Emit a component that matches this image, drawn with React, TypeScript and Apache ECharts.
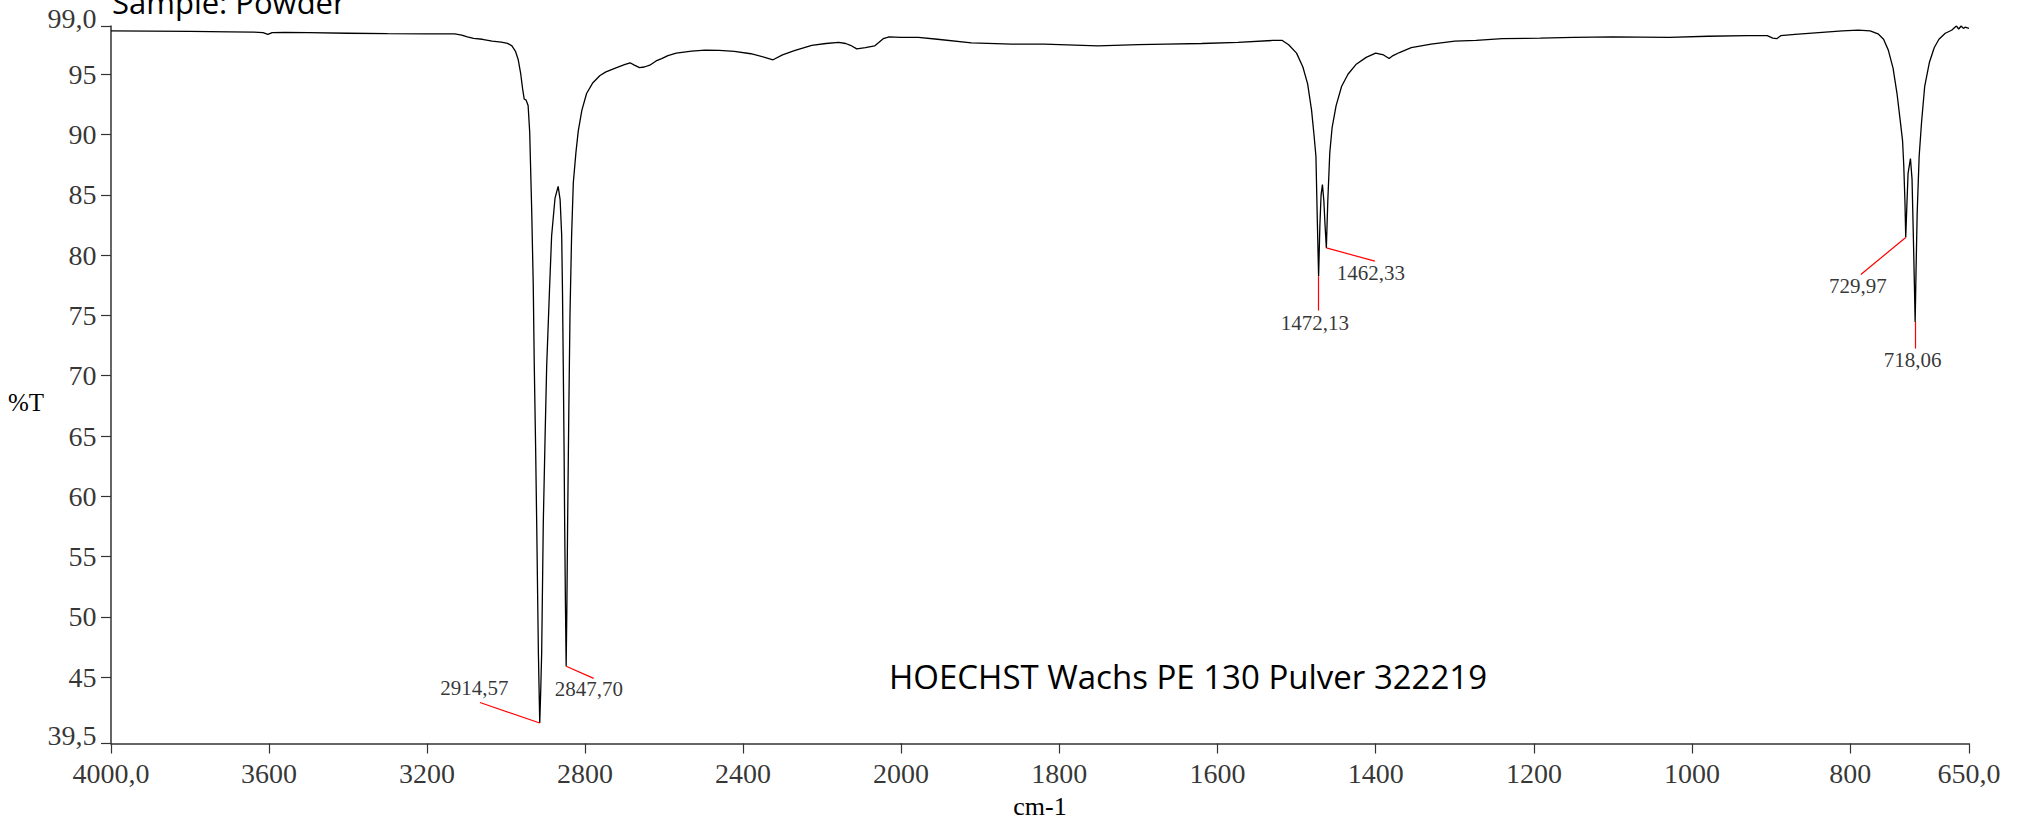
import React, { useEffect, useRef } from "react";
import * as echarts from "echarts";

// Wavenumber (cm-1), descending
const wavenumbers: number[] = [
  4000, 3900, 3800, 3700, 3640, 3615, 3603, 3592, 3560, 3500, 3400, 3300, 3200, 3130, 3112, 3098,
  3082, 3060, 3035, 3012, 2996, 2985, 2976, 2969, 2963, 2958, 2954, 2949, 2944, 2940, 2935, 2931,
  2928.4, 2925, 2922.3, 2920, 2918, 2916, 2914.57, 2912, 2909.7, 2905.6, 2901, 2897, 2890, 2884.5,
  2876, 2868, 2863, 2859, 2857, 2855, 2853, 2851.5, 2849.5, 2847.7, 2846, 2844, 2841, 2838, 2834,
  2829.6, 2823, 2817, 2808, 2796, 2780, 2762, 2747, 2720, 2700, 2686, 2675, 2662, 2650, 2636, 2620,
  2606, 2590, 2569, 2530, 2496, 2460, 2422, 2380, 2345, 2324, 2300, 2270, 2226, 2190, 2158, 2140,
  2128, 2112, 2090, 2067, 2045, 2030, 2015, 2000, 1978, 1954, 1911, 1860, 1819, 1751, 1700, 1665,
  1620, 1574, 1530, 1518, 1510, 1500, 1492, 1486, 1481, 1478, 1475.5, 1473.8, 1472.13, 1470.5, 1469,
  1467.3, 1465.5, 1464, 1462.33, 1460.5, 1458, 1455, 1450, 1443, 1435, 1425, 1412, 1400, 1390, 1383,
  1378, 1370, 1355, 1330, 1300, 1273, 1240, 1192, 1150, 1100, 1029, 980, 930, 905, 898, 893, 888,
  870, 840, 810, 790, 775, 765, 758, 752, 746, 741, 737, 734, 732.5, 731, 729.97, 728.5, 727, 724,
  722, 720.5, 719, 718.06, 717, 715.5, 713, 710, 706, 700, 694, 688, 680, 672, 666, 663, 660, 657,
  655, 650,
];

// Transmittance (%T)
const transmittance: number[] = [
  98.6, 98.58, 98.55, 98.52, 98.5, 98.45, 98.3, 98.45, 98.47, 98.45, 98.4, 98.36, 98.35, 98.35, 98.25, 98.1,
  97.97, 97.9, 97.75, 97.66, 97.56, 97.35, 96.9, 96.2, 95.1, 93.8, 92.95, 92.85, 92.4, 90.2, 83.8, 77.5,
  70.8, 64, 57.8, 52, 47, 43.6, 41.2, 44, 47, 57.8, 65, 70.8, 77, 81.6,
  84.7, 85.7, 84.6, 81.6, 77, 70.8, 64, 57.8, 51, 45.9, 50.5, 57.8, 67, 75.1, 81.5,
  86, 88.5, 90.3, 92, 93.4, 94.3, 94.9, 95.2, 95.55, 95.8, 95.95, 95.75, 95.55, 95.6, 95.75, 96.1,
  96.3, 96.55, 96.75, 96.92, 97.0, 96.98, 96.9, 96.7, 96.4, 96.2, 96.6, 96.95, 97.4, 97.55, 97.65, 97.55,
  97.4, 97.1, 97.2, 97.35, 97.95, 98.1, 98.08, 98.06, 98.05, 97.9, 97.6, 97.5, 97.5, 97.35, 97.45, 97.5,
  97.55, 97.65, 97.8, 97.8, 97.45, 96.75, 95.6, 94.2, 92.0, 90.0, 88.2, 83, 78.25, 82.5, 85,
  85.85, 84.5, 82.5, 80.6, 84.5, 88.5, 90.6, 92.4, 94.0, 95.0, 95.8, 96.4, 96.75, 96.6, 96.3,
  96.55, 96.8, 97.2, 97.5, 97.75, 97.8, 97.95, 98.0, 98.05, 98.1, 98.05, 98.15, 98.2, 98.2, 98.0, 97.95, 98.2,
  98.3, 98.45, 98.6, 98.65, 98.6, 98.35, 97.9, 97.0, 95.5, 93.4, 91.2, 89.5, 87.5, 84.5, 81.46, 84.2, 86.8, 88.0,
  86.3, 82, 77.5, 74.46, 78.5, 83.5, 88.2, 91.0, 94.0, 96.0, 97.2, 97.9, 98.4, 98.65, 99.0, 98.75, 99.0, 98.8,
  98.9, 98.8,
];

// Peak annotations
const peakLabels: string[] = ["2914,57", "2847,70", "1472,13", "1462,33", "729,97", "718,06"];
const peakWavenumbers: number[] = [2914.57, 2847.7, 1472.13, 1462.33, 729.97, 718.06];
const peakValues: number[] = [41.2, 45.9, 78.25, 80.6, 81.46, 74.46];
const leaderEndWavenumbers: number[] = [3066, 2778, 1472.13, 1401, 786.7, 718.06];
const leaderEndValues: number[] = [42.9, 44.9, 75.4, 79.5, 78.4, 72.25];
const labelWavenumbers: number[] = [3080, 2790, 1477, 1406, 790.5, 721.4];
const labelValues: number[] = [44.1, 44.06, 74.4, 78.5, 77.4, 71.3];

// Axis ticks
const yTicks: number[] = [39.5, 45, 50, 55, 60, 65, 70, 75, 80, 85, 90, 95, 99];
const xTicksHigh: number[] = [4000, 3600, 3200, 2800, 2400, 2000];
const xTicksLow: number[] = [650, 800, 1000, 1200, 1400, 1600, 1800];

const SPLIT = 2000;
const Y_MIN = 39.5;
const Y_MAX = 99;
const X_MAX = 4000;
const SERIF = "Liberation Serif";
const HAND = "Open Sans";
const AXIS_COLOR = "#333";

const fmtX = (v: number) => (v === 4000 ? "4000,0" : v === 650 ? "650,0" : String(Math.round(v)));
const fmtY = (v: number) => (v === 39.5 ? "39,5" : v === 99 ? "99,0" : String(Math.round(v)));

export default function App() {
  const ref = useRef<HTMLDivElement>(null);

  useEffect(() => {
    if (!ref.current) return;
    const chart = echarts.init(ref.current, undefined, { renderer: "svg" });

    const high: number[][] = [];
    const low: number[][] = [];
    wavenumbers.forEach((w, i) => {
      if (w >= SPLIT) high.push([w, transmittance[i]]);
      if (w <= SPLIT) low.push([w, transmittance[i]]);
    });

    const leaders = (inHigh: boolean) =>
      peakWavenumbers
        .map((w, i) => ({ w, i }))
        .filter(({ w }) => (inHigh ? w >= SPLIT : w < SPLIT))
        .map(({ w, i }) => [
          { coord: [w, peakValues[i]] },
          { coord: [leaderEndWavenumbers[i], leaderEndValues[i]] },
        ]);

    const peakLabelData = (inHigh: boolean) =>
      peakWavenumbers
        .map((w, i) => ({ w, i }))
        .filter(({ w }) => (inHigh ? w >= SPLIT : w < SPLIT))
        .map(({ i }) => ({ name: peakLabels[i], value: [labelWavenumbers[i], labelValues[i]] }));

    const axisLine = { show: true, onZero: false, lineStyle: { color: AXIS_COLOR, width: 1.5 } };
    const axisTick = { show: true, inside: false, length: 10, lineStyle: { color: AXIS_COLOR, width: 1.2 } };

    const lineSeries = (idx: number, data: number[][], inHigh: boolean) => ({
      type: "line",
      xAxisIndex: idx,
      yAxisIndex: idx,
      data,
      showSymbol: false,
      symbol: "none",
      clip: true,
      lineStyle: { color: "#000", width: 1.3 },
      markLine: {
        silent: true,
        symbol: ["none", "none"],
        label: { show: false },
        lineStyle: { color: "#ff0000", width: 1.2, type: "solid" },
        data: leaders(inHigh),
      },
    });

    const textSeries = (idx: number, data: any[], label: any) => ({
      type: "scatter",
      xAxisIndex: idx,
      yAxisIndex: idx,
      symbolSize: 1,
      itemStyle: { color: "rgba(0,0,0,0)" },
      silent: true,
      clip: false,
      z: 5,
      data,
      label: {
        show: true,
        formatter: (p: any) => p.name,
        fontFamily: SERIF,
        color: "#000",
        ...label,
      },
    });

    const xTickLabelData = (ticks: number[]) => ticks.map((t) => ({ name: fmtX(t), value: [t, Y_MIN] }));
    const yTickLabelData = yTicks.map((t) => ({
      name: fmtY(t),
      value: [X_MAX, t],
      label: t === Y_MIN || t === Y_MAX ? { offset: [0, -8] } : undefined,
    }));

    chart.setOption({
      animation: false,
      backgroundColor: "#fff",
      textStyle: { fontFamily: SERIF },
      grid: [
        { left: 111, top: 26, width: 790, height: 717.5 },
        { left: 901, top: 26, width: 1068, height: 717.5 },
      ],
      xAxis: [
        {
          type: "value",
          gridIndex: 0,
          min: 2000,
          max: 4000,
          interval: 400,
          inverse: true,
          axisLine,
          axisTick,
          axisLabel: { show: false },
          splitLine: { show: false },
        },
        {
          type: "value",
          gridIndex: 1,
          min: 650,
          max: 2000,
          inverse: true,
          axisLine,
          axisTick: { ...axisTick, customValues: xTicksLow },
          axisLabel: { show: false },
          splitLine: { show: false },
        },
      ],
      yAxis: [
        {
          type: "value",
          gridIndex: 0,
          min: Y_MIN,
          max: Y_MAX,
          axisLine,
          axisTick: { ...axisTick, customValues: yTicks },
          axisLabel: { show: false },
          splitLine: { show: false },
        },
        { type: "value", gridIndex: 1, min: Y_MIN, max: Y_MAX, show: false, splitLine: { show: false } },
      ],
      series: [
        lineSeries(0, high, true),
        lineSeries(1, low, false),
        textSeries(0, peakLabelData(true), { position: "inside", fontSize: 21 }),
        textSeries(1, peakLabelData(false), { position: "inside", fontSize: 21 }),
        textSeries(0, xTickLabelData(xTicksHigh), { position: "bottom", distance: 15, fontSize: 28 }),
        textSeries(1, xTickLabelData(xTicksLow), { position: "bottom", distance: 15, fontSize: 28 }),
        textSeries(0, yTickLabelData, { position: "left", distance: 14, fontSize: 28 }),
      ],
      graphic: [
        {
          type: "text",
          left: 112,
          top: -14,
          style: { text: "Sample: Powder", fontFamily: HAND, fontSize: 31, fill: "#000" },
        },
        {
          type: "text",
          x: 889,
          y: 676,
          style: {
            text: "HOECHST Wachs PE 130 Pulver 322219",
            fontFamily: HAND,
            fontSize: 33,
            fill: "#000",
            verticalAlign: "middle",
            align: "left",
          },
        },
        {
          type: "text",
          x: 1040,
          y: 806,
          style: { text: "cm-1", fontFamily: SERIF, fontSize: 26, fill: "#000", align: "center", verticalAlign: "middle" },
        },
        {
          type: "text",
          x: 8,
          y: 402,
          style: { text: "%T", fontFamily: SERIF, fontSize: 25, fill: "#000", align: "left", verticalAlign: "middle" },
        },
      ],
    });

    return () => chart.dispose();
  }, []);

  return (
    <div
      ref={ref}
      style={{ position: "absolute", left: 0, top: 0, width: 2020, height: 819, background: "#fff" }}
    />
  );
}
